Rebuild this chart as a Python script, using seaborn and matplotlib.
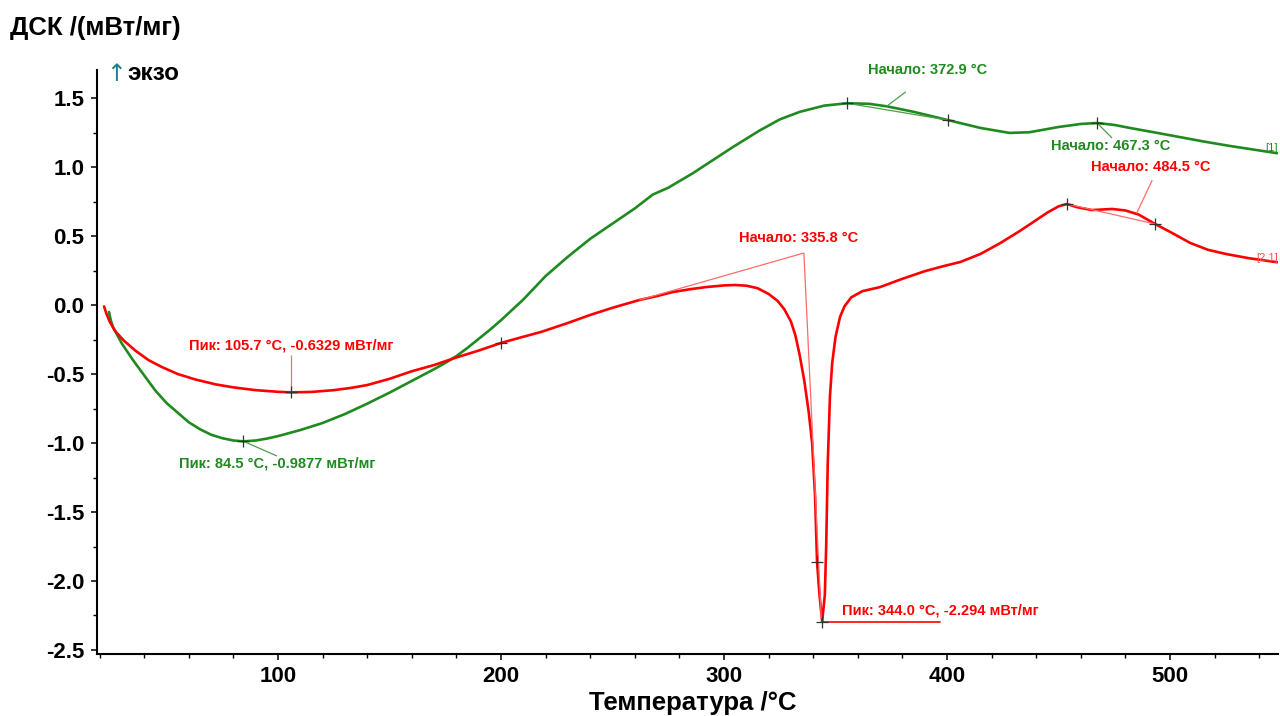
import numpy as np
import pandas as pd
import matplotlib
matplotlib.use("Agg")
import matplotlib.pyplot as plt
from matplotlib.ticker import MultipleLocator, FormatStrFormatter
import seaborn as sns

# ---- DSC curves: temperature (°C) and heat flow (mW/mg) ----
t_green = [24.2, 25, 26, 30, 35, 40, 45, 50, 55, 60, 65, 70, 75, 80, 84.5, 90, 95,
           100, 110, 120, 130, 140, 150, 160, 170, 175, 180, 185, 190, 195, 200,
           210, 220, 230, 240, 250, 260, 268, 275, 286, 295, 304, 316, 325, 334,
           345, 355.2, 365, 372.9, 385, 400.4, 415, 428, 437, 450, 460, 467.3,
           475, 482, 495, 505, 515, 527, 538, 548]
dsc_green = [-0.05, -0.11, -0.16, -0.28, -0.40, -0.51, -0.62, -0.71, -0.78, -0.85,
             -0.90, -0.94, -0.965, -0.982, -0.988, -0.982, -0.968, -0.950, -0.906,
             -0.855, -0.790, -0.715, -0.635, -0.55, -0.465, -0.42, -0.37, -0.31,
             -0.245, -0.18, -0.11, 0.04, 0.21, 0.35, 0.48, 0.59, 0.70, 0.80, 0.85,
             0.955, 1.05, 1.145, 1.265, 1.345, 1.40, 1.445, 1.462, 1.458, 1.44,
             1.40, 1.34, 1.283, 1.247, 1.252, 1.29, 1.312, 1.319, 1.305, 1.283,
             1.245, 1.215, 1.185, 1.152, 1.125, 1.10]

t_red = [22, 23, 24.5, 27, 31, 36, 42, 48, 55, 63, 72, 80, 90, 100, 105.7, 115,
         125, 133, 140, 150, 160, 170, 180, 190, 200, 210, 218, 230, 240, 250,
         262, 270, 277, 285, 292, 300, 305, 310, 315, 320, 324, 327, 330, 332,
         334, 336, 338, 339.5, 340.8, 341.7, 342.8, 344.0, 345.2, 345.8, 346.5,
         347.5, 348.5, 350, 352, 354, 357, 362, 370, 380, 390, 398, 406, 415,
         424, 432, 438, 445, 450, 453.8, 458, 465, 474, 480, 486, 493.3, 500,
         509, 517, 525, 535, 548]
dsc_red = [-0.01, -0.06, -0.12, -0.19, -0.26, -0.33, -0.40, -0.45, -0.50, -0.54,
           -0.575, -0.597, -0.617, -0.629, -0.633, -0.630, -0.617, -0.60, -0.58,
           -0.535, -0.48, -0.435, -0.38, -0.33, -0.275, -0.23, -0.195, -0.13,
           -0.072, -0.02, 0.036, 0.065, 0.094, 0.115, 0.13, 0.142, 0.145, 0.14,
           0.122, 0.08, 0.03, -0.03, -0.12, -0.22, -0.37, -0.55, -0.78, -1.0,
           -1.38, -1.86, -2.10, -2.294, -2.10, -1.75, -1.15, -0.66, -0.42, -0.23,
           -0.087, -0.01, 0.055, 0.10, 0.13, 0.19, 0.245, 0.28, 0.312, 0.37,
           0.45, 0.53, 0.594, 0.67, 0.715, 0.732, 0.71, 0.688, 0.696, 0.685,
           0.655, 0.587, 0.53, 0.45, 0.40, 0.37, 0.34, 0.31]

# Evaluated points (tangent points / extrema)
green_marks_t = [84.5, 355.2, 400.4, 467.3]
green_marks_y = [-0.9877, 1.462, 1.34, 1.319]
red_marks_t = [105.7, 200, 341.7, 344.0, 453.8, 493.3]
red_marks_y = [-0.6329, -0.275, -1.86, -2.294, 0.732, 0.587]

# Onset construction lines (red endothermic peak)
red_base_t = [262, 335.8]
red_base_y = [0.036, 0.377]
red_slope_t = [335.8, 343.6]
red_slope_y = [0.377, -2.27]

GREEN = "#1f8a1f"
RED = "#ff0000"

sns.set_theme(style="ticks")
plt.rcParams["font.family"] = ["Liberation Sans", "DejaVu Sans"]
plt.rcParams["font.weight"] = "bold"
plt.rcParams["text.color"] = "black"
plt.rcParams["axes.labelcolor"] = "black"
plt.rcParams["xtick.color"] = "black"
plt.rcParams["ytick.color"] = "black"

fig = plt.figure(figsize=(12.8, 7.16), dpi=100)
ax = fig.add_axes([97 / 1280, 62 / 716, (1278 - 97) / 1280, (654 - 70) / 716])

df_g = pd.DataFrame({"T": t_green, "DSC": dsc_green})
df_r = pd.DataFrame({"T": t_red, "DSC": dsc_red})
sns.lineplot(data=df_g, x="T", y="DSC", ax=ax, color=GREEN, lw=1.9,
             estimator=None, sort=False)
sns.lineplot(data=df_r, x="T", y="DSC", ax=ax, color=RED, lw=1.9,
             estimator=None, sort=False)

thin = dict(lw=0.9, solid_capstyle="butt")
# construction / leader lines
ax.plot(red_base_t, red_base_y, color="#ff6a6a", **thin)
ax.plot(red_slope_t, red_slope_y, color="#ff6a6a", **thin)
ax.plot([355.2, 400.4], [1.462, 1.34], color="#4aa04a", **thin)
ax.plot([453.8, 493.3], [0.732, 0.587], color="#ff6a6a", **thin)
ax.plot([372.9, 381.5], [1.44, 1.545], color="#4aa04a", **thin)
ax.plot([467.3, 474.0], [1.319, 1.21], color="#4aa04a", **thin)
ax.plot([485.0, 492.0], [0.665, 0.905], color="#ff6a6a", **thin)
ax.plot([105.7, 105.7], [-0.6329, -0.36], color="#ff6a6a", **thin)
ax.plot([84.5, 99.5], [-0.9877, -1.094], color="#4aa04a", **thin)
ax.plot([344.0, 397.0], [-2.294, -2.294], color=RED, lw=1.2)

ax.plot(green_marks_t, green_marks_y, ls="none", marker="+", ms=8, mew=0.9,
        color="#333333")
ax.plot(red_marks_t, red_marks_y, ls="none", marker="+", ms=8, mew=0.9,
        color="#333333")

fs = 10.5
ax.text(105.8, -0.297, "Пик: 105.7 °C, -0.6329 мВт/мг", color=RED, fontsize=fs,
        fontweight="bold", ha="center", va="center")
ax.text(99.5, -1.152, "Пик: 84.5 °C, -0.9877 мВт/мг", color=GREEN, fontsize=fs,
        fontweight="bold", ha="center", va="center")
ax.text(396.9, -2.217, "Пик: 344.0 °C, -2.294 мВт/мг", color=RED, fontsize=fs,
        fontweight="bold", ha="center", va="center")
ax.text(333.6, 0.486, "Начало: 335.8 °C", color=RED, fontsize=fs,
        fontweight="bold", ha="center", va="center")
ax.text(391.5, 1.703, "Начало: 372.9 °C", color=GREEN, fontsize=fs,
        fontweight="bold", ha="center", va="center", clip_on=False)
ax.text(473.5, 1.152, "Начало: 467.3 °C", color=GREEN, fontsize=fs,
        fontweight="bold", ha="center", va="center")
ax.text(491.5, 1.0, "Начало: 484.5 °C", color=RED, fontsize=fs,
        fontweight="bold", ha="center", va="center")
ax.text(548.3, 1.14, "[1]", color=GREEN, fontsize=8, fontweight="normal",
        ha="right", va="center", clip_on=False)
ax.text(548.3, 0.34, "[2.1]", color="#ff5050", fontsize=8, fontweight="normal",
        ha="right", va="center", clip_on=False)

ax.set_xlim(18.83, 548.4)
ax.set_ylim(-2.529, 1.703)
ax.xaxis.set_major_locator(MultipleLocator(100))
ax.xaxis.set_minor_locator(MultipleLocator(20))
ax.yaxis.set_major_locator(MultipleLocator(0.5))
ax.yaxis.set_minor_locator(MultipleLocator(0.25))
ax.yaxis.set_major_formatter(FormatStrFormatter("%.1f"))
ax.set_xticks([100, 200, 300, 400, 500])

for side in ("top", "right"):
    ax.spines[side].set_visible(False)
for side in ("left", "bottom"):
    ax.spines[side].set_linewidth(1.5)
    ax.spines[side].set_color("black")

ax.tick_params(axis="both", which="major", direction="out", length=4,
               width=1.1, colors="black", labelsize=16, pad=5)
ax.tick_params(axis="both", which="minor", direction="out", length=3,
               width=1.0, colors="black")
for lab in ax.get_xticklabels() + ax.get_yticklabels():
    lab.set_fontweight("bold")

ax.set_xlabel("Температура /°C", fontsize=18.5, fontweight="bold", va="center")
ax.xaxis.set_label_coords(0.5047, -0.0839)
ax.set_ylabel("")
ax.grid(False)

fig.text(10 / 1280, 1 - 28 / 716, "ДСК /(мВт/мг)", fontsize=18.5,
         fontweight="bold", ha="left", va="center")
fig.text(106 / 1280, 1 - 74 / 716, "↑", fontsize=17, color="#1f7f8f",
         family="DejaVu Sans", fontweight="normal", ha="left", va="center")
fig.text(127 / 1280, 1 - 74 / 716, "экзо", fontsize=17.5, fontweight="bold",
         ha="left", va="center")

fig.savefig("out.png", dpi=100, facecolor="white")
